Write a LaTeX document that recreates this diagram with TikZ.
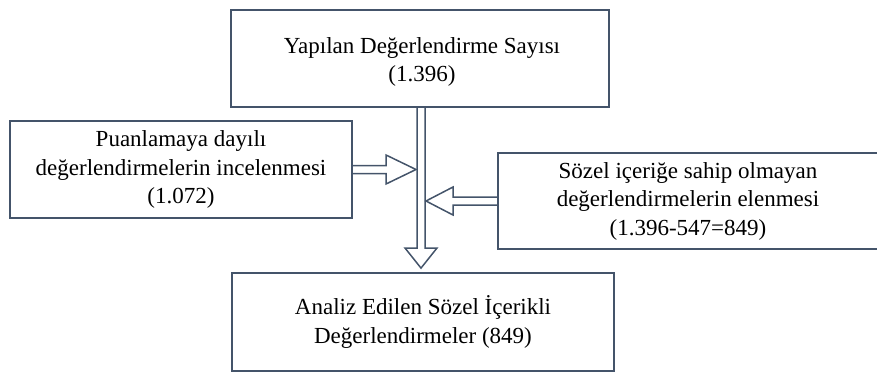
\documentclass[tikz,border=0pt]{standalone}
\usepackage{fontspec}
\setmainfont{Liberation Serif}
\usetikzlibrary{calc}
\definecolor{edge}{RGB}{68,84,106}
\begin{document}
\begin{tikzpicture}[x=1pt,y=-1pt,
  box/.style={draw=edge,line width=1.8pt,align=center,inner sep=0pt,
    font=\fontsize{23}{28.5}\selectfont,text=black},
  blockarrow/.style={draw=edge,line width=1.5pt,line join=miter}]
\useasboundingbox (0,0) rectangle (877,372);
% boxes
\node[box,minimum width=378,minimum height=97] (top) at (420,58.5) {};
\node[box,align=center,inner sep=0pt,font=\fontsize{23}{28.5}\selectfont] (toptext) at (422,62) [draw=none]
  {Yapılan Değerlendirme Sayısı\\(1.396)};
\node[box,minimum width=342,minimum height=97] (left) at (181,169.5)
  {Puanlamaya dayılı\\değerlendirmelerin incelenmesi\\(1.072)};
\node[box,minimum width=380,minimum height=96] (right) at (688,201)
  {Sözel içeriğe sahip olmayan\\değerlendirmelerin elenmesi\\(1.396-547=849)};
\node[box,minimum width=382,minimum height=98] (bottom) at (423,322)
  {Analiz Edilen Sözel İçerikli\\Değerlendirmeler (849)};
% main downward block arrow
\coordinate (vtop) at (421,107);
\draw[blockarrow] (vtop -| 417,0) -- (417,248) -- (405,248) -- ($(bottom.north)+(-2,-4)$)
  -- (437,248) -- (425,248) -- (vtop -| 425,0);
% left block arrow into the main shaft
\draw[blockarrow] ($(left.east)+(0,-4)$) -- (386,165.5) -- (386,155) -- (416,169.5)
  -- (386,184) -- (386,173.5) -- ($(left.east)+(0,4)$);
% right block arrow into the main shaft
\draw[blockarrow] ($(right.west)+(0,-4)$) -- (453,197) -- (453,187) -- (426,201)
  -- (453,215) -- (453,205) -- ($(right.west)+(0,4)$);
\end{tikzpicture}
\end{document}
